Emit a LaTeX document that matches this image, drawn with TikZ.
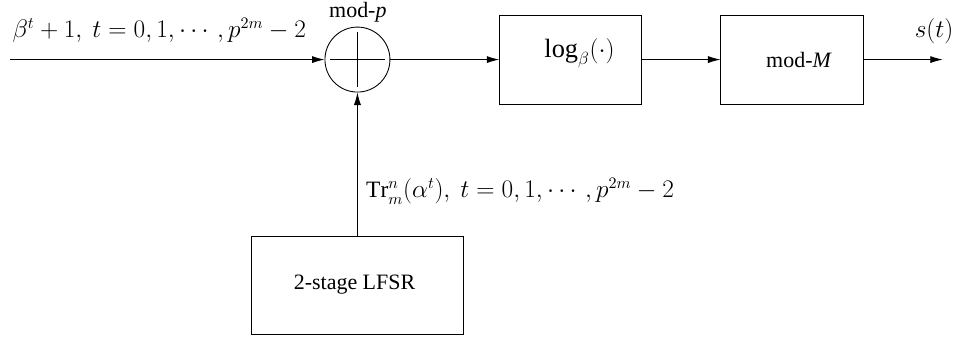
\documentclass[tikz,border=0pt]{standalone}
\usepackage{fontspec}
\setmainfont{Liberation Serif}
\usepackage{amsmath,amssymb}
\usetikzlibrary{arrows.meta,positioning}
\newcommand{\blk}[4]{\node[draw,line width=0.6pt,minimum width=#3,
  minimum height=2.14cm] (#1) at (#2) {#4};}

\begin{document}
\begin{tikzpicture}[
  line width=0.6pt,
  txt/.style={font=\fontsize{15}{18}\selectfont, inner sep=0pt},
  mth/.style={font=\fontsize{16}{19}\selectfont, inner sep=0pt},
  arr/.style={-{Latex[length=0.3cm,width=0.17cm]}, line width=0.6pt},
]
\useasboundingbox (0,0) rectangle (22.90,-8.14);

%% -- mod-p adder ------------------------------------------------------
\node[draw,circle,minimum size=1.56cm,inner sep=0pt] (adder) at (8.58,-1.43) {};
\draw ([xshift=-0.65cm]adder.center) -- ([xshift=0.65cm]adder.center);
\draw ([yshift=-0.65cm]adder.center) -- ([yshift=0.65cm]adder.center);
\node[txt,anchor=base] (modp) at (8.59,-0.41) {mod-\textit{p}};

%% -- input ------------------------------------------------------------
\coordinate (in) at (0.24,-1.43);
\node[mth,anchor=base west] (inlbl) at (0.29,-0.90)
  {$\beta^t+1,\ t=0,1,\cdots,p^{2m}-2$};
\draw[arr] (in) -- (adder);

%% -- log and mod-M blocks ---------------------------------------------
\blk{log}{13.70,-1.43}{3.41cm}{}
\node[mth,font=\fontsize{18}{21}\selectfont,anchor=base] (loglbl) at (13.91,-1.39)
  {$\log_\beta(\cdot)$};
\blk{modM}{19.01,-1.43}{3.41cm}{}
\node[txt,anchor=base] (modMlbl) at (19.18,-1.63) {mod-\textit{M}};
\draw[arr] (adder) -- (log);
\draw[arr] (log) -- (modM);

%% -- output -----------------------------------------------------------
\coordinate (out) at (22.63,-1.43);
\draw[arr] (modM) -- (out);
\node[mth,anchor=base] (slbl) at (22.42,-0.89) {$s(t)$};

%% -- LFSR -------------------------------------------------------------
\node[draw,minimum width=5.11cm,minimum height=2.35cm] (lfsr) at (8.58,-6.86) {};
\node[txt,anchor=base] (lfsrlbl) at (8.51,-6.96) {2-stage LFSR};
\draw[arr] (lfsr) -- (adder);
\node[mth,anchor=base west] (trlbl) at (8.78,-4.75)
  {$\mathrm{Tr}_m^n(\alpha^t),\ t=0,1,\cdots,p^{2m}-2$};

\end{tikzpicture}
\end{document}
